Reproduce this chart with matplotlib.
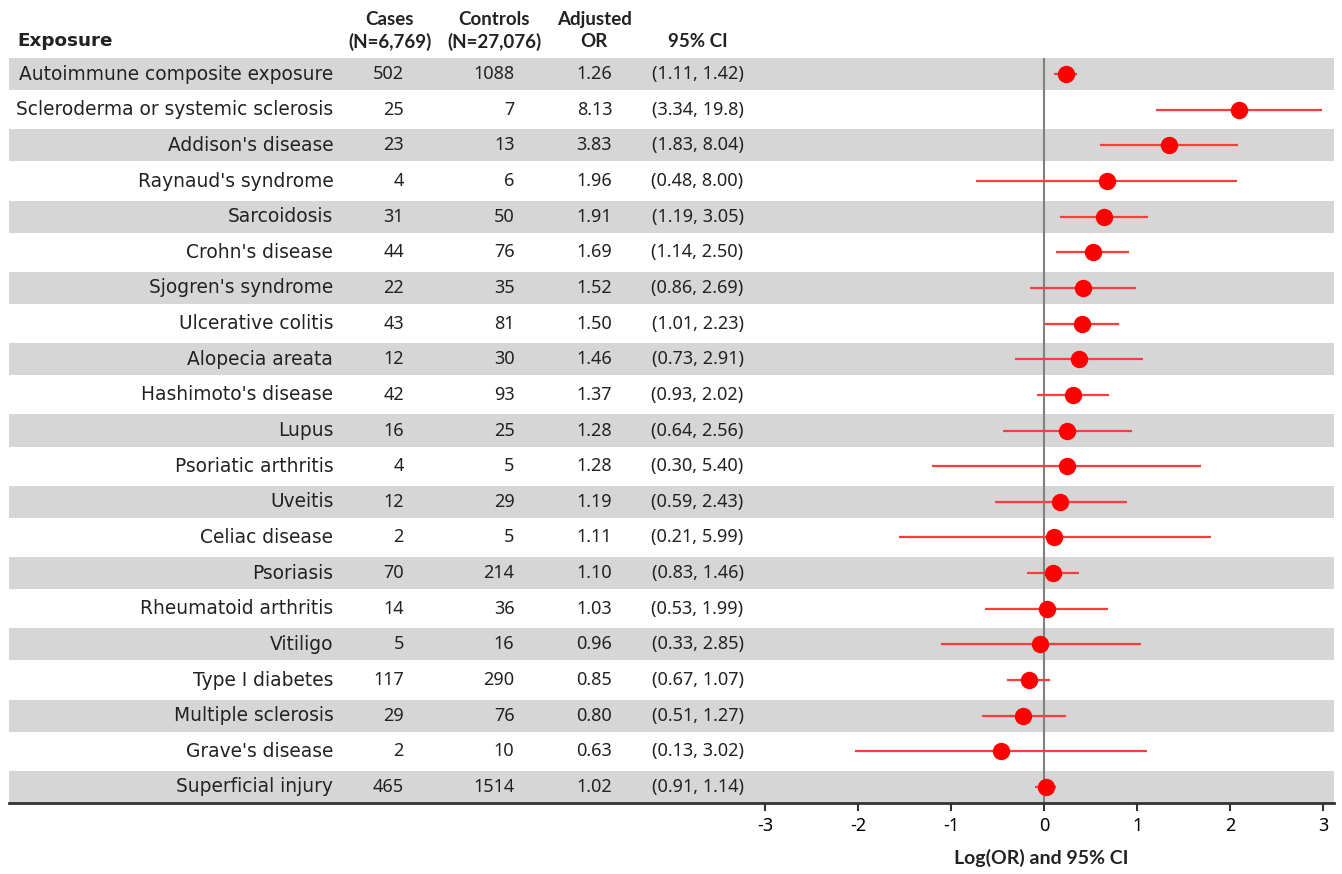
import numpy as np
import matplotlib
matplotlib.use('Agg')
import matplotlib.pyplot as plt

plt.rcParams['font.family'] = ['DejaVu Sans']

exposures = ['Autoimmune composite exposure', 'Scleroderma or systemic sclerosis',
             "Addison's disease", "Raynaud's syndrome", 'Sarcoidosis', "Crohn's disease",
             "Sjogren's syndrome", 'Ulcerative colitis', 'Alopecia areata',
             "Hashimoto's disease", 'Lupus', 'Psoriatic arthritis', 'Uveitis',
             'Celiac disease', 'Psoriasis', 'Rheumatoid arthritis', 'Vitiligo',
             'Type I diabetes', 'Multiple sclerosis', "Grave's disease", 'Superficial injury']
cases = [502, 25, 23, 4, 31, 44, 22, 43, 12, 42, 16, 4, 12, 2, 70, 14, 5, 117, 29, 2, 465]
controls = [1088, 7, 13, 6, 50, 76, 35, 81, 30, 93, 25, 5, 29, 5, 214, 36, 16, 290, 76, 10, 1514]
adj_or = ['1.26', '8.13', '3.83', '1.96', '1.91', '1.69', '1.52', '1.50', '1.46', '1.37', '1.28',
          '1.28', '1.19', '1.11', '1.10', '1.03', '0.96', '0.85', '0.80', '0.63', '1.02']
ci_low = ['1.11', '3.34', '1.83', '0.48', '1.19', '1.14', '0.86', '1.01', '0.73', '0.93', '0.64',
          '0.30', '0.59', '0.21', '0.83', '0.53', '0.33', '0.67', '0.51', '0.13', '0.91']
ci_high = ['1.42', '19.8', '8.04', '8.00', '3.05', '2.50', '2.69', '2.23', '2.91', '2.02', '2.56',
           '5.40', '2.43', '5.99', '1.46', '1.99', '2.85', '1.07', '1.27', '3.02', '1.14']
xticks = [-3, -2, -1, 0, 1, 2, 3]

n = len(exposures)
rows = np.arange(n)
log_or = np.log(np.array(adj_or, dtype=float))
log_lo = np.log(np.array(ci_low, dtype=float))
log_hi = np.log(np.array(ci_high, dtype=float))

fig = plt.figure(figsize=(13.42, 8.74), dpi=100)
ax = fig.add_axes([0.0067, 0.0812, 0.9874, 0.8524])
ax.set_xlim(-11.14, 3.12)
ax.set_ylim(n - 0.55, -0.45)

# alternating row bands
for i in rows[::2]:
    ax.axhspan(i - 0.45, i + 0.45, color='#d6d6d6', lw=0, zorder=0)

ax.axvline(0, color='#808080', lw=1.5, zorder=1)
ax.hlines(rows, log_lo, log_hi, color='#ff3b3b', lw=1.6, zorder=2)
ax.plot(log_or, rows, 'o', color='#ff0000', ms=11.5, zorder=3)

num = ['Noto Sans', 'DejaVu Sans']
bold = ['Lato', 'DejaVu Sans']
tc = '#222222'
for i in rows:
    ax.text(-7.65, i, exposures[i], ha='right', va='center', fontsize=13.4, color=tc)
    ax.text(-6.89, i, str(cases[i]), ha='right', va='center', fontsize=13, color=tc, family=num)
    ax.text(-5.70, i, str(controls[i]), ha='right', va='center', fontsize=13, color=tc, family=num)
    ax.text(-4.84, i, adj_or[i], ha='center', va='center', fontsize=13, color=tc, family=num)
    ax.text(-3.73, i, '(%s, %s)' % (ci_low[i], ci_high[i]), ha='center', va='center',
            fontsize=13, color=tc, family=num)

# header
hd = dict(ha='center', va='center', fontsize=13.5, fontweight='bold', family=bold, color=tc)
ax.text(-11.05, -0.93, 'Exposure', ha='left', va='center', fontsize=13.2, fontweight='bold',
        color=tc)
ax.text(-7.04, -1.52, 'Cases', **hd)
ax.text(-7.04, -0.90, '(N=6,769)', **hd)
ax.text(-5.92, -1.52, 'Controls', **hd)
ax.text(-5.92, -0.90, '(N=27,076)', **hd)
ax.text(-4.84, -1.52, 'Adjusted', **hd)
ax.text(-4.84, -0.90, 'OR', **hd)
ax.text(-3.73, -0.90, '95% CI', **hd)

ax.set_xticks(xticks)
ax.set_xticklabels([str(t) for t in xticks], family=num)
ax.set_yticks([])
ax.tick_params(axis='x', length=6, width=1.5, color='#333333', labelsize=13, pad=4)
ax.set_xlabel('Log(OR) and 95% CI', fontsize=14, fontweight='bold', family=bold, color=tc)
ax.xaxis.set_label_coords(0.779, -0.062)
for s in ['top', 'left', 'right']:
    ax.spines[s].set_visible(False)
ax.spines['bottom'].set_color('#333333')
ax.spines['bottom'].set_linewidth(2)

fig.savefig('out.png', dpi=100)
